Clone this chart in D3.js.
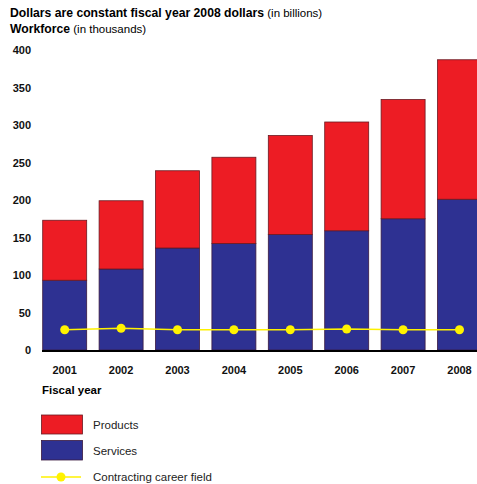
<!DOCTYPE html>
<html><head><meta charset="utf-8">
<script src="https://cdn.jsdelivr.net/npm/d3@7"></script>
<style>
html,body{margin:0;padding:0;background:#fff;}
svg{display:block;font-family:"Liberation Sans",Arial,Helvetica,sans-serif;}
</style></head>
<body>
<svg id="chart" width="477" height="484"></svg>
<script>
const years = ["2001","2002","2003","2004","2005","2006","2007","2008"];
const services = [93, 108, 136, 142, 154, 159, 175, 201];
const totals = [173, 199, 239, 257, 286, 304, 334, 387];
const products = totals.map((t, i) => t - services[i]);
const workforce = [27, 29, 27, 27, 27, 28, 27, 27];
const yTicks = [0, 50, 100, 150, 200, 250, 300, 350, 400];

const colors = {products: "#ed1c24", services: "#2e3192", line: "#fff200"};

const svg = d3.select("#chart");
const x = d3.scaleBand().domain(years).range([42.7, 481.5]).paddingInner(0.22).paddingOuter(0);
const y = d3.scaleLinear().domain([0, 400]).range([350, 50]);

// Titles
const t1 = svg.append("text").attr("x", 10).attr("y", 17).attr("font-size", 11.5);
t1.append("tspan").attr("font-weight", "bold").attr("font-size", 12.2).text("Dollars are constant fiscal year 2008 dollars");
t1.append("tspan").text(" (in billions)");
const t2 = svg.append("text").attr("x", 10).attr("y", 33).attr("font-size", 11.5);
t2.append("tspan").attr("font-weight", "bold").attr("font-size", 12.2).text("Workforce");
t2.append("tspan").text(" (in thousands)");

// Y axis
const yAxis = svg.append("g").attr("transform", "translate(31,0)")
  .call(d3.axisLeft(y).tickValues(yTicks).tickSize(0).tickPadding(0));
yAxis.select(".domain").remove();
yAxis.selectAll("text").attr("font-size", 11).attr("font-weight", "bold").attr("fill", "#111")
  .attr("font-family", "Liberation Sans, Arial, sans-serif");

// Bars
const g = svg.append("g");
g.selectAll("rect.svc").data(years).join("rect")
  .attr("x", d => x(d)).attr("width", x.bandwidth())
  .attr("y", (d, i) => y(services[i])).attr("height", (d, i) => y(0) - y(services[i]))
  .attr("fill", colors.services).attr("stroke", "#3a1a40").attr("stroke-width", 0.8);
g.selectAll("rect.prd").data(years).join("rect")
  .attr("x", d => x(d)).attr("width", x.bandwidth())
  .attr("y", (d, i) => y(totals[i])).attr("height", (d, i) => y(services[i]) - y(totals[i]))
  .attr("fill", colors.products).attr("stroke", "#6a1a22").attr("stroke-width", 0.8);

// Baseline
svg.append("line").attr("x1", 42).attr("x2", 477).attr("y1", y(0) + 1).attr("y2", y(0) + 1)
  .attr("stroke", "#000").attr("stroke-width", 2.2);

// X axis labels
const xAxis = svg.append("g").attr("transform", "translate(0,366)")
  .call(d3.axisBottom(x).tickSize(0).tickPadding(0));
xAxis.select(".domain").remove();
xAxis.selectAll("text").attr("font-size", 11).attr("font-weight", "bold").attr("fill", "#111")
  .attr("font-family", "Liberation Sans, Arial, sans-serif");

svg.append("text").attr("x", 42).attr("y", 394).attr("font-size", 11.5).attr("font-weight", "bold")
  .text("Fiscal year");

// Workforce line
const line = d3.line().x((d, i) => x(years[i]) + x.bandwidth() / 2).y(d => y(d));
svg.append("path").datum(workforce).attr("d", line).attr("fill", "none")
  .attr("stroke", colors.line).attr("stroke-width", 1.6);
svg.selectAll("circle.wf").data(workforce).join("circle")
  .attr("cx", (d, i) => x(years[i]) + x.bandwidth() / 2).attr("cy", d => y(d)).attr("r", 4.5)
  .attr("fill", colors.line);

// Legend
const leg = svg.append("g");
leg.append("rect").attr("x", 41.5).attr("y", 415).attr("width", 41).attr("height", 19)
  .attr("fill", colors.products).attr("stroke", "#6a1a22").attr("stroke-width", 0.8);
leg.append("rect").attr("x", 41.5).attr("y", 440.5).attr("width", 41).attr("height", 19.5)
  .attr("fill", colors.services).attr("stroke", "#3a1a40").attr("stroke-width", 0.8);
leg.append("line").attr("x1", 41).attr("x2", 81).attr("y1", 477).attr("y2", 477)
  .attr("stroke", colors.line).attr("stroke-width", 1.6);
leg.append("circle").attr("cx", 61).attr("cy", 477).attr("r", 4.5).attr("fill", colors.line);
const labels = [["Products", 429], ["Services", 455], ["Contracting career field", 481]];
labels.forEach(([t, yy]) => leg.append("text").attr("x", 93).attr("y", yy)
  .attr("font-size", 11.5).attr("fill", "#222").text(t));
</script>
</body></html>
